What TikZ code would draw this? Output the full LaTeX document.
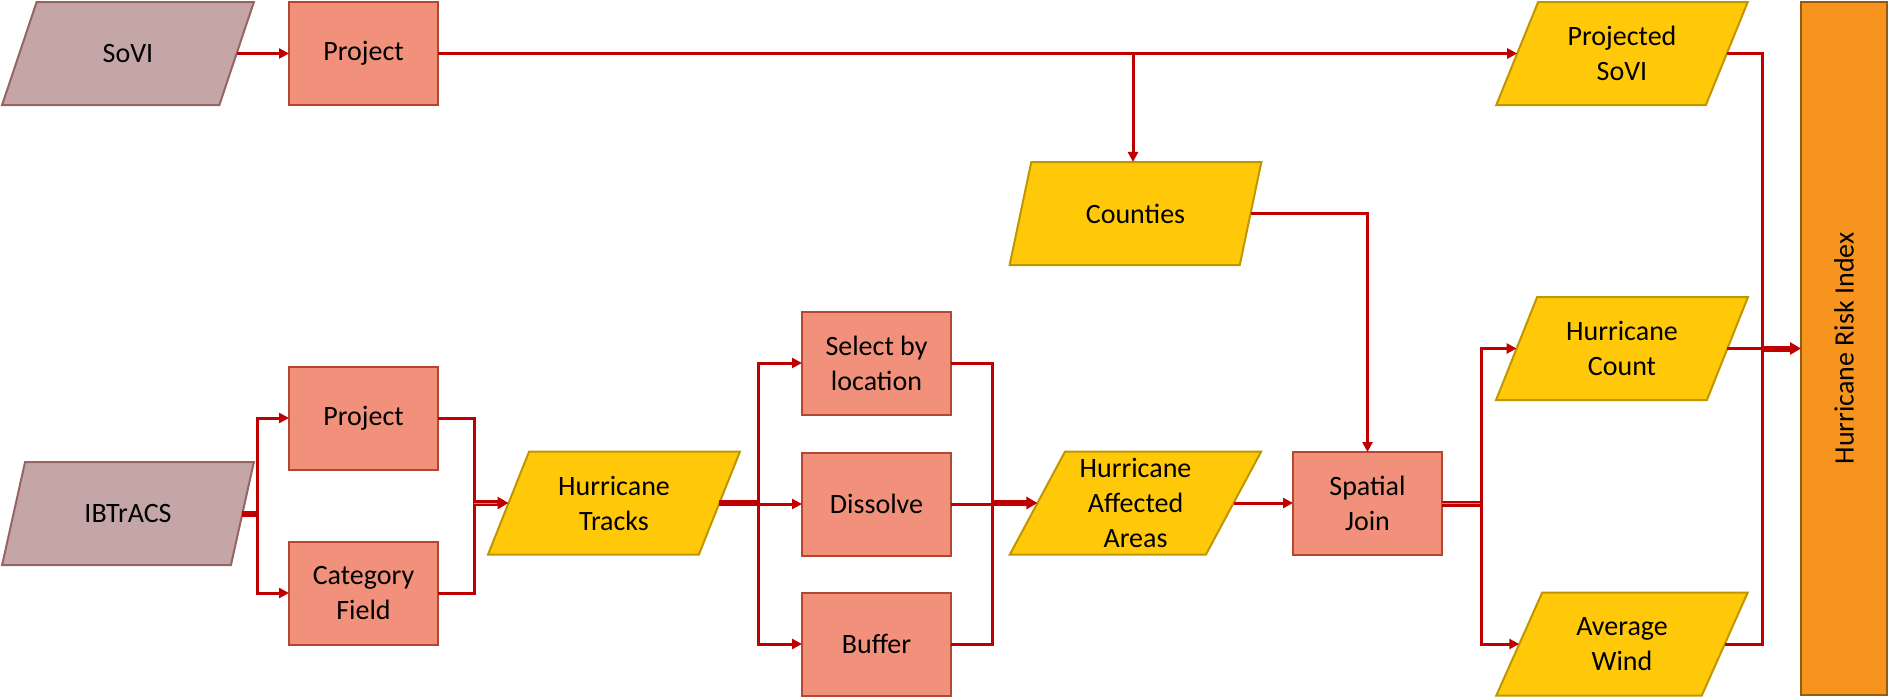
\documentclass[tikz,border=0pt]{standalone}
\usepackage{fontspec}
\setmainfont{Carlito}
\usetikzlibrary{shapes.geometric,arrows.meta}
\definecolor{srcfill}{RGB}{196,166,166}
\definecolor{srcborder}{RGB}{150,100,100}
\definecolor{procfill}{RGB}{241,145,123}
\definecolor{procborder}{RGB}{180,70,50}
\definecolor{datafill}{RGB}{255,201,10}
\definecolor{databorder}{RGB}{191,150,0}
\definecolor{hrifill}{RGB}{247,148,30}
\definecolor{hriborder}{RGB}{150,90,20}
\definecolor{linered}{RGB}{192,0,0}
\definecolor{gapred}{RGB}{235,130,130}
\begin{document}
\begin{tikzpicture}[x=1pt,y=-1pt,
  base/.style={font=\fontsize{28}{35}\selectfont, align=center, outer sep=0pt, line width=2pt, text=black},
  proc/.style={base, rectangle, draw=procborder, fill=procfill, minimum width=149pt, minimum height=103pt, inner sep=0pt},
  data/.style={base, trapezium, trapezium left angle=64, trapezium right angle=116, trapezium stretches=true, minimum width=252pt, minimum height=103pt, inner sep=1pt, draw=databorder, fill=datafill},
  src/.style={data, draw=srcborder, fill=srcfill},
  hribox/.style={base, rectangle, draw=hriborder, fill=hrifill, minimum width=86pt, minimum height=693pt, inner sep=0pt},
  conn/.style={draw=linered, line width=3pt},
  arr/.style={conn, -{Triangle[length=10pt,width=10pt]}},
  fat/.style={conn, line width=6pt},
  fatarr/.style={fat, -{Triangle[length=11pt,width=12pt]}},
  gapline/.style={draw=gapred, line width=0.9pt}
]
\useasboundingbox (0,0) rectangle (1889,699);

% nodes
\node[src] (sovi) at (128,53.5) {SoVI};
\node[proc] (proj1) at (363.5,53.5) {Project};
\node[data] (psovi) at (1622,53.5) {Projected\\SoVI};
\node[data] (counties) at (1135.5,213.5) {Counties};
\node[data] (hcount) at (1622,348.5) {Hurricane\\Count};
\node[data] (awind) at (1622,644) {Average\\Wind};
\node[hribox] (hri) at (1844,348.5) {};
\node[base, rotate=90] (hritext) at (hri.center) {Hurricane Risk Index};
\node[src] (ibtracs) at (128,513.5) {IBTrACS};
\node[proc] (proj2) at (363.5,418) {Project};
\node[proc] (catf) at (363.5,593) {Category\\Field};
\node[data] (tracks) at (614,503) {Hurricane\\Tracks};
\node[proc] (select) at (876.5,363) {Select by\\location};
\node[proc] (dissolve) at (876.5,504) {Dissolve};
\node[proc] (buffer) at (876.5,644) {Buffer};
\node[data] (haa) at (1135.5,503) {Hurricane\\Affected\\Areas};
\node[proc] (sjoin) at (1367.5,503.5) {Spatial\\Join};

% junctions
\coordinate (br) at (1133,53.5);
\coordinate (j1) at (257,513.5);
\coordinate (j2) at (474,503);
\coordinate (j3) at (758,503);
\coordinate (j4) at (992,503);
\coordinate (j5) at (1481,503.5);
\coordinate (j6) at (1762,348.5);

% top row
\draw[arr] (sovi.right side) -- (proj1.west);
\draw[arr] (proj1.east) -- (psovi.left side);
\draw[arr] (br) -- (br |- counties.north);
\draw[arr] (counties.right side) -| (sjoin.north);

% IBTrACS branch
\draw[fat] (ibtracs.right side) -- (j1);
\draw[arr] (j1) |- (proj2.west);
\draw[arr] (j1) |- (catf.west);

% merge into tracks
\draw[conn] (proj2.east) -| (j2);
\draw[conn] (catf.east) -| (j2);
\draw[fatarr] (j2) -- (tracks.left side);
\draw[gapline, shorten >=12pt] (j2) -- (tracks.left side);

% tracks branch
\draw[fat] (tracks.right side) -- (j3);
\draw[arr] (j3) |- (select.west);
\draw[arr] (j3) |- (dissolve.west);
\draw[arr] (j3) |- (buffer.west);

% merge into affected areas
\draw[conn] (select.east) -| (j4);
\draw[conn] (buffer.east) -| (j4);
\draw[conn] (dissolve.east) -- (dissolve.east -| j4);
\draw[fatarr] (j4) -- (haa.left side);

% spatial join
\draw[arr] (haa.right side) -- (haa.right side -| sjoin.west);
\draw[fat] (sjoin.east) -- (j5);
\draw[gapline] (sjoin.east) -- (j5);
\draw[arr] (j5) |- (hcount.left side);
\draw[arr] (j5) |- (awind.left side);

% into risk index
\draw[conn] (psovi.right side) -| (j6);
\draw[conn] (awind.right side) -| (j6);
\draw[conn] (hcount.right side) -- (hcount.right side -| j6);
\draw[fatarr] (j6) -- (j6 -| hri.west);
\end{tikzpicture}
\end{document}
